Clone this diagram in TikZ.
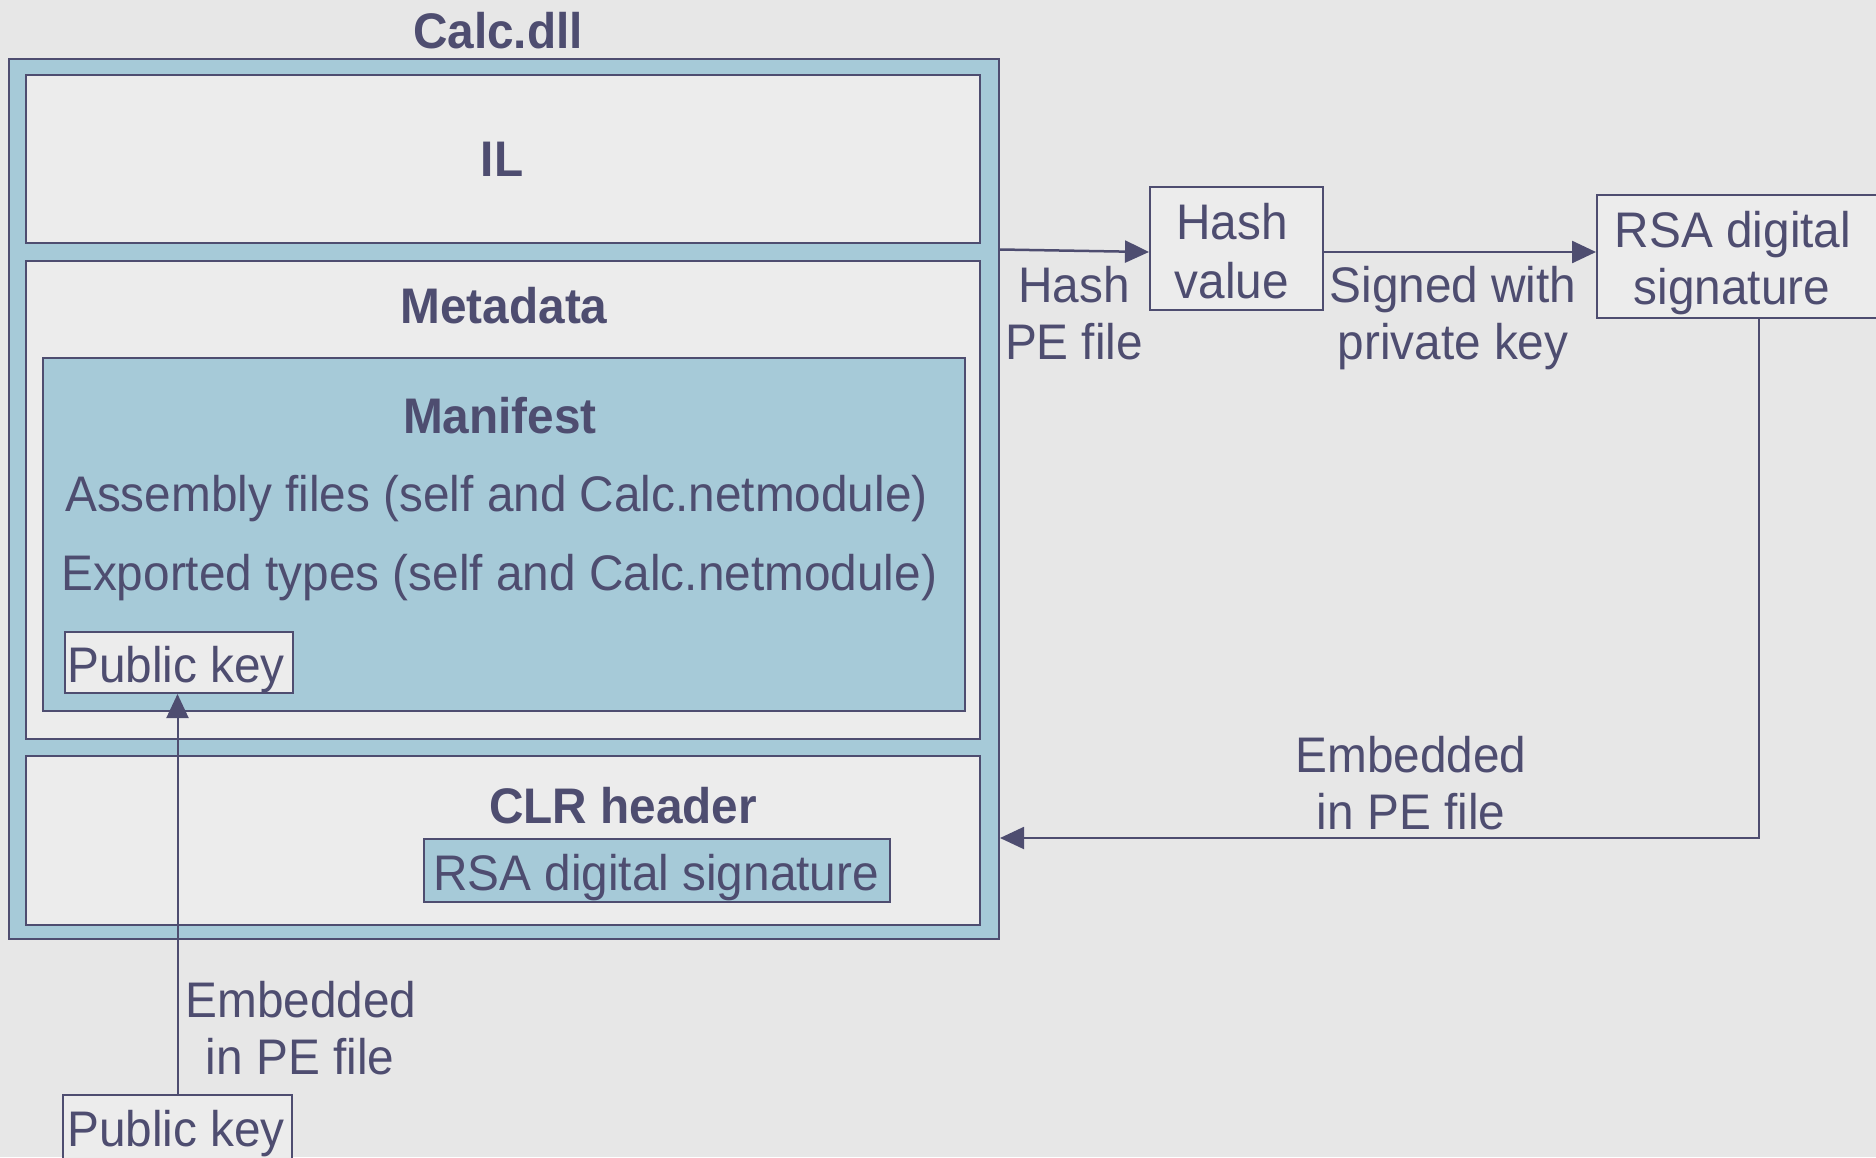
\documentclass[tikz,border=0pt]{standalone}
\usepackage{fontspec}
\setmainfont{Liberation Sans}[FakeStretch=0.955]
\usetikzlibrary{arrows.meta}
\definecolor{ink}{RGB}{78,77,112}
\definecolor{pale}{RGB}{166,202,216}
\definecolor{panel}{RGB}{236,236,236}
\definecolor{paper}{RGB}{231,231,231}
\tikzset{
  every node/.style={font=\fontsize{50}{57}\selectfont, text=ink, inner sep=0pt},
  box/.style={draw=ink, line width=2pt, inner sep=0pt},
  lbl/.style={anchor=base},
  hd/.style={anchor=base, font=\fontsize{50}{57}\selectfont\bfseries},
  flow/.style={draw=ink, line width=2.5pt, -{Triangle[length=24pt, width=22pt]}},
  thin flow/.style={draw=ink, line width=2pt, -{Triangle[length=24pt, width=22pt]}}
}
\begin{document}
\begin{tikzpicture}[x=1pt, y=-1pt]
\useasboundingbox (0,0) rectangle (1876,1157);
\clip (0,0) rectangle (1876,1157);
\fill[paper] (0,0) rectangle (1876,1157);

% assembly file and its sections
\node[box, fill=pale, minimum width=990pt, minimum height=880pt] (outer) at (504,499) {};
\node[box, fill=panel, minimum width=954pt, minimum height=168pt] (il) at (503,159) {};
\node[box, fill=panel, minimum width=954pt, minimum height=478pt] (meta) at (503,500) {};
\node[box, fill=pale, minimum width=922pt, minimum height=353pt] (manifest) at (504,534.5) {};
\node[box, fill=panel, minimum width=228pt, minimum height=61pt] (pkin) at (179,662.5) {};
\node[box, fill=panel, minimum width=954pt, minimum height=169pt] (clr) at (503,840.5) {};
\node[box, fill=pale, minimum width=466pt, minimum height=63pt] (sigin) at (657,870.5) {};

% signing steps
\node[box, fill=panel, minimum width=173pt, minimum height=123pt] (hash) at (1236.5,248.5) {};
\node[box, fill=panel, minimum width=324pt, minimum height=123pt] (rsa) at (1759,256.5) {};
\node[box, fill=panel, minimum width=229pt, minimum height=64pt] (pkout) at (177.5,1127) {};

% section titles and entries
\node[hd] (tcalc) at (498,48) {Calc.dll};
\node[hd] (til) at (502,176) {IL};
\node[hd] (tmeta) at (504,323) {Metadata};
\node[hd] (tman) at (500,433) {Manifest};
\node[anchor=base west] (tasm) at (65,511) {Assembly files (self and Calc.netmodule)};
\node[anchor=base west] (texp) at (61,590) {Exported types (self and Calc.netmodule)};
\node[lbl] (tpkin) at (176,682) {Public key};
\node[hd] (tclr) at (623,823) {CLR header};
\node[lbl] (tsigin) at (656,890) {RSA digital signature};

\node[lbl] (thash1) at (1232,239) {Hash};
\node[lbl] (thash2) at (1232,298) {value};
\node[lbl] (trsa1) at (1733,247) {RSA digital};
\node[lbl] (trsa2) at (1732,304) {signature};
\node[lbl] (tpkout) at (176,1146) {Public key};

% connector labels
\node[lbl] (lhash1) at (1074,302) {Hash};
\node[lbl] (lhash2) at (1074,359) {PE file};
\node[lbl] (lsign1) at (1453,302) {Signed with};
\node[lbl] (lsign2) at (1453,359) {private key};
\node[lbl] (lemb1) at (1411,772) {Embedded};
\node[lbl] (lemb2) at (1411,829) {in PE file};
\node[lbl] (lpk1) at (301,1017) {Embedded};
\node[lbl] (lpk2) at (300,1074) {in PE file};

% connectors
\draw[flow] ([yshift=-1pt]outer.east |- hash.west) -- ([yshift=-3.5pt]hash.west);
\draw[flow] ([yshift=-3.5pt]hash.east) -- ([yshift=-3.5pt]hash.east -| rsa.west);
\draw[thin flow] (rsa.south) |- (outer.east |- sigin.north);
\draw[thin flow] (pkout.north) -- (pkout.north |- pkin.south);
\end{tikzpicture}
\end{document}
